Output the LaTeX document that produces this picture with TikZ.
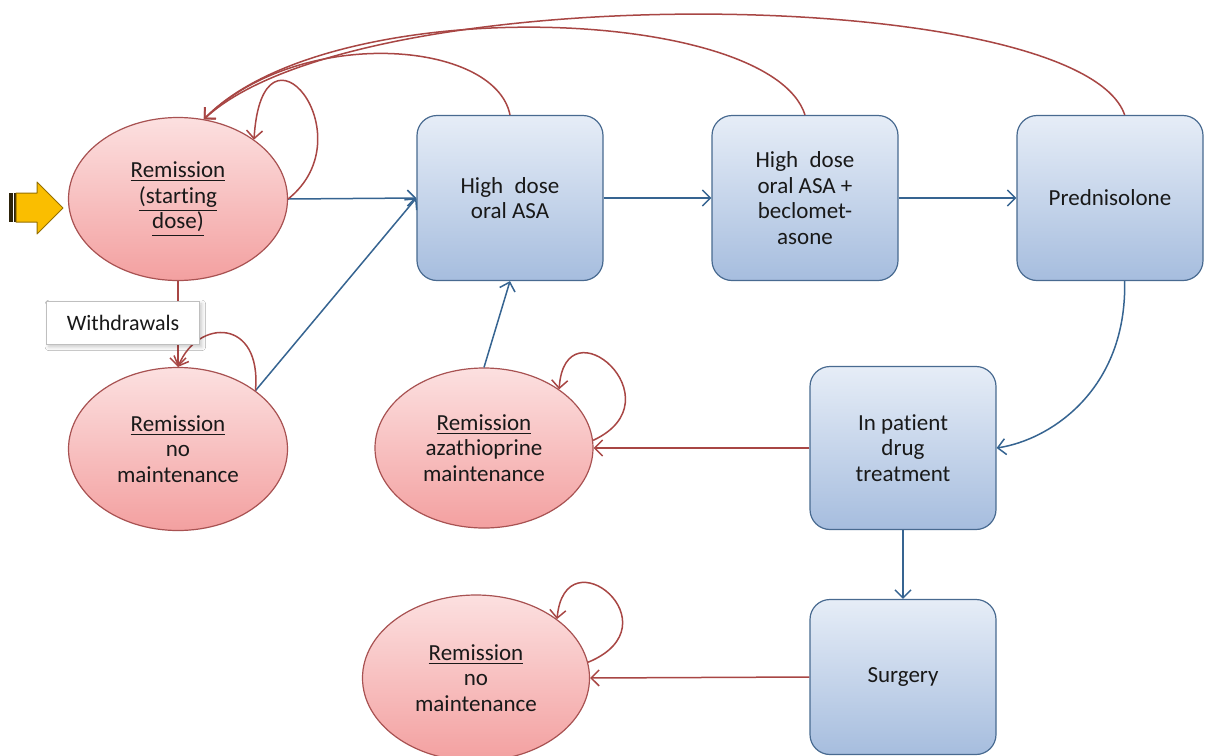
\documentclass[tikz,border=0pt]{standalone}
\usepackage{fontspec}
\setmainfont{Carlito}[Ligatures=NoCommon]
\usetikzlibrary{arrows.meta,shapes.geometric,shadows.blur}

\definecolor{boxtop}{RGB}{230,237,247}
\definecolor{boxbot}{RGB}{166,189,222}
\definecolor{boxline}{RGB}{72,106,144}
\definecolor{elltop}{RGB}{252,224,224}
\definecolor{ellbot}{RGB}{243,160,160}
\definecolor{ellline}{RGB}{168,82,82}
\definecolor{redarrow}{RGB}{168,70,68}
\definecolor{bluearrow}{RGB}{54,100,145}
\definecolor{txt}{RGB}{25,25,25}
\definecolor{gold}{RGB}{250,190,0}
\definecolor{goldline}{RGB}{150,112,0}
\definecolor{stripe}{RGB}{45,35,10}

\begin{document}
\begin{tikzpicture}[x=0.5pt,y=-0.5pt,
  every node/.style={font=\fontsize{11.5}{12.8}\selectfont, text=txt, align=center},
  state/.style={ellipse, draw=ellline, line width=0.6pt, top color=elltop, bottom color=ellbot, inner sep=0pt},
  treat/.style={rectangle, rounded corners=10pt, draw=boxline, line width=0.6pt,
    top color=boxtop, bottom color=boxbot, minimum width=93pt, minimum height=82.5pt, inner sep=0pt},
  tip/.style={-{Straight Barb[length=4pt,width=8pt]}},
  bluelink/.style={draw=bluearrow, line width=0.75pt, tip},
  redlink/.style={draw=redarrow, line width=0.75pt, tip},
  notebox/.style={rectangle, draw=black!25, fill=white, line width=0.5pt,
    minimum width=76.5pt, minimum height=21.5pt, inner sep=0pt,
    blur shadow={shadow xshift=1.2pt, shadow yshift=-1.2pt, shadow blur steps=6, shadow opacity=22}},
]
\useasboundingbox (0,0) rectangle (1207,756);
\fill[white] (0,0) rectangle (1207,756);

% entry arrow
\fill[stripe] (9,193) rectangle (13,222);
\fill[stripe] (14,193) rectangle (16,222);
\draw[goldline, fill=gold, line width=0.5pt, line join=round]
  (16,193) -- (37,193) -- (37,182) -- (63,208) -- (37,234) -- (37,222) -- (16,222) -- cycle;

% remission states
\node[state, minimum width=109.5pt, minimum height=81.5pt] (e1) at (178,199)
  {\underline{Remission}\\\underline{(starting}\\\underline{dose)}};
\node[state, minimum width=109.5pt, minimum height=81.5pt] (e2) at (178,449)
  {\underline{Remission}\\no\\maintenance};
\node[state, minimum width=109pt, minimum height=80pt] (e3) at (484,448)
  {\underline{Remission}\\azathioprine\\maintenance};
\node[state, minimum width=113.5pt, minimum height=83pt] (e4) at (476,678)
  {\underline{Remission}\\no\\maintenance};

% treatment steps
\node[treat] (asa) at (510,198) {High\enspace dose\\oral ASA};
\node[treat] (beclo) at (805,198) {High\enspace dose\\oral ASA +\\beclomet-\\asone};
\node[treat] (pred) at (1110,198) {Prednisolone};
\node[treat, minimum height=81.5pt] (inp) at (903,448) {In patient\\drug\\treatment};
\node[treat, minimum height=77.5pt] (surg) at (903,677) {Surgery};

% forward transitions
\draw[bluelink] (e1.east) -- (asa.west);
\draw[bluelink] (e2.37) -- (asa.west);
\draw[bluelink] (asa.east) -- (beclo.west);
\draw[bluelink] (beclo.east) -- (pred.west);
\draw[bluelink] (pred.-80) .. controls (1127,390) and (1050,440) .. (inp.east);
\draw[bluelink] (e3.north) -- (asa.south);
\draw[bluelink] (inp.south) -- (surg.north);
\draw[redlink] (inp.west) -- (e3.east);
\draw[redlink] (surg.west) -- (e4.east);

% return to the starting state
\draw[redlink] (asa.north) .. controls (495,40) and (300,25) .. (e1.72);
\draw[redlink] (beclo.north) .. controls (770,5) and (330,-10) .. (e1.72);
\draw[redlink] (pred.80) .. controls (1080,-15) and (360,-25) .. (e1.72);

% staying in the same state
\draw[redlink] (e1.east) .. controls (368,135) and (262,5) .. (e1.38);
\draw[redlink] (e2.37) .. controls (262,318) and (198,318) .. (e2.north);
\draw[redlink] (e3.4) .. controls (680,400) and (565,300) .. (e3.38);
\draw[redlink] (e4.8) .. controls (678,625) and (565,532) .. (e4.36);

% withdrawals
\draw[redlink] (e1.south) -- (e2.north);
\node[notebox] (wd) at (123,323) {\fontsize{11}{12}\selectfont Withdrawals};
\end{tikzpicture}
\end{document}
